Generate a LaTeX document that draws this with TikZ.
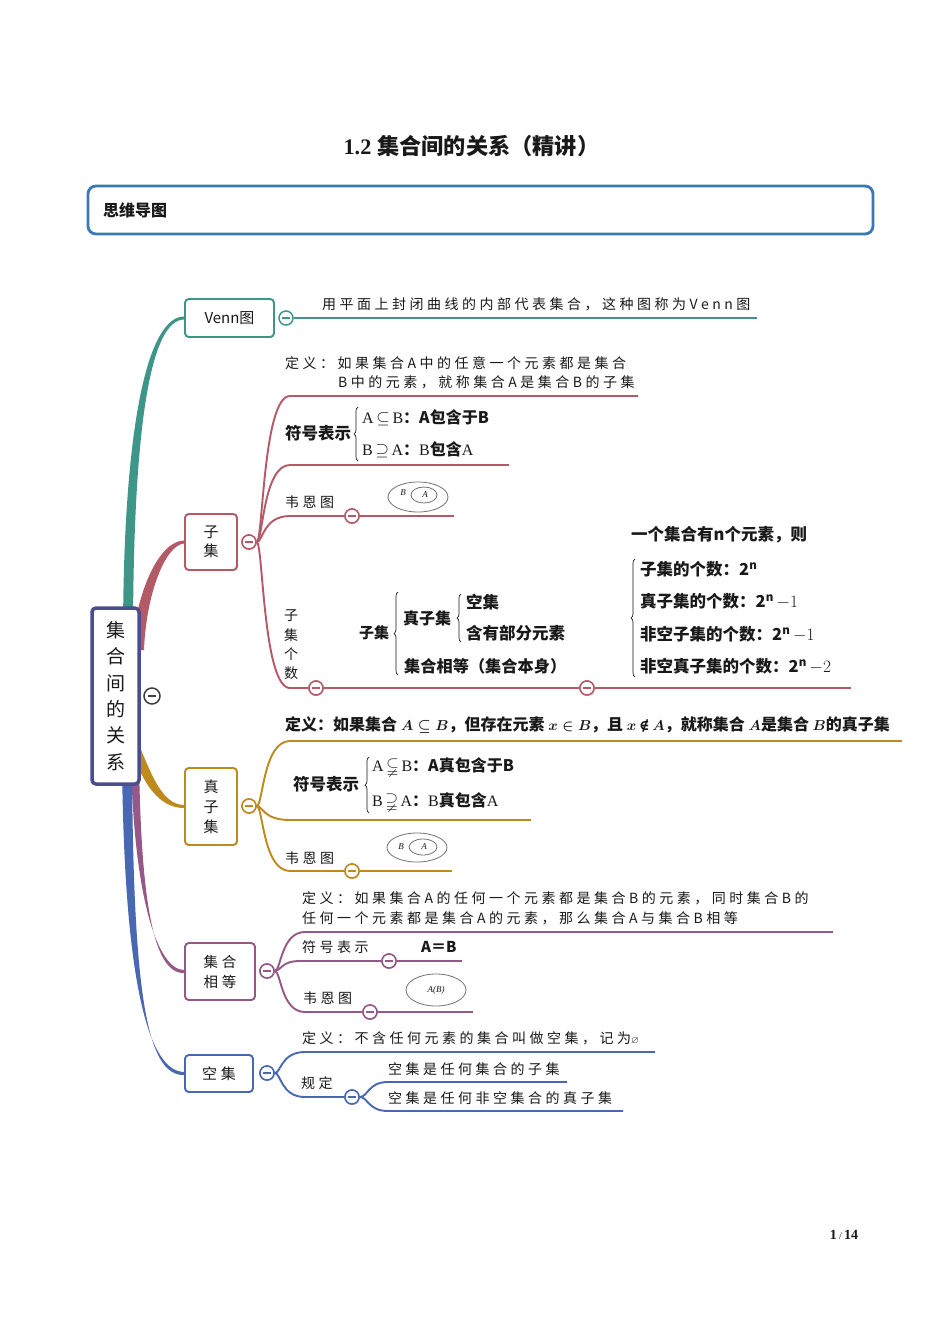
\documentclass[tikz,border=0pt]{standalone}
\usepackage{amsmath,amssymb}
\usepackage{fontspec}
\setmainfont{Noto Sans CJK SC}
\newfontfamily\spc[LetterSpace=25]{Noto Sans CJK SC}
\newfontfamily\tms{Liberation Serif}
\newfontfamily\djv{DejaVu Serif}
\newcommand\bm[1]{{\fontsize{14.4}{19}\selectfont\boldmath$#1$}}
\usetikzlibrary{calc,decorations.pathreplacing}
\definecolor{cteal}{RGB}{62,150,136}
\definecolor{crose}{RGB}{180,90,102}
\definecolor{cgold}{RGB}{190,138,30}
\definecolor{cmauve}{RGB}{150,88,135}
\definecolor{cblue}{RGB}{72,104,180}
\definecolor{croot}{RGB}{74,78,140}
\definecolor{chead}{RGB}{60,120,180}
\definecolor{cgray}{RGB}{115,115,115}
\definecolor{ctext}{RGB}{25,25,25}
\tikzset{
  mbox/.style={draw=#1, line width=1.8pt, rounded corners=4pt, fill=white, inner sep=0pt, align=center, text=ctext, font=\fontsize{15}{19}\selectfont},
  coll/.style={circle, draw=#1, fill=white, line width=1.5pt, minimum size=14pt, inner sep=0pt,
    path picture={\draw[#1, line width=1.5pt] ($(path picture bounding box.center)+(-4pt,0pt)$) -- ($(path picture bounding box.center)+(4pt,0pt)$);}},
  br/.style={line width=1.9pt, draw=#1},
  sp/.style={anchor=west, inner sep=0pt, text=ctext, font=\spc\fontsize{14}{19}\selectfont},
  bd/.style={anchor=west, inner sep=0pt, text=ctext, font=\bfseries\fontsize{16.5}{20}\selectfont},
  mx/.style={anchor=west, inner sep=0pt, text=ctext, font=\fontsize{16}{20}\selectfont},
  brc/.style={decorate, decoration={brace, amplitude=4pt}, line width=0.7pt, draw=ctext},
  vn/.style={draw=cgray, line width=0.8pt},
  vl/.style={inner sep=0pt, font=\tms\itshape\fontsize{9}{10}\selectfont, text=ctext},
}
\begin{document}
\begin{tikzpicture}[x=1pt,y=-1pt]
\useasboundingbox (0,0) rectangle (950,1344);
\fill[white] (0,0) rectangle (950,1344);

% title and header
\node[font=\bfseries\fontsize{22.2}{26}\selectfont, inner sep=0pt, text=ctext] (title) at (471.5,146) {{\tms 1.2}\hspace{6pt}集合间的关系（精讲）};
\node[draw=chead, line width=2.8pt, rounded corners=8pt, minimum width=785pt, minimum height=48pt, inner sep=0pt] (hdr) at (480.5,210) {};
\node[bd, font=\bfseries\fontsize{16}{19}\selectfont] (hdrt) at (103,210) {思维导图};

% boxes (placed first for anchors, redrawn over branches)
\node[mbox=cteal, minimum width=89pt, minimum height=38pt] (venn) at (229.5,318) {Venn图};
\node[mbox=crose, minimum width=52pt, minimum height=56pt] (zj) at (211,542) {子\\集};
\node[mbox=cgold, minimum width=52pt, minimum height=77pt, font=\fontsize{15}{20}\selectfont] (zzj) at (211,806.5) {真\\子\\集};
\node[mbox=cmauve, minimum width=70pt, minimum height=57pt, font=\spc\fontsize{14.5}{20}\selectfont] (xd) at (220,971.5) {集合\\相等};
\node[mbox=cblue, minimum width=68pt, minimum height=37pt, font=\spc\fontsize{15}{19}\selectfont] (kj) at (219,1073.5) {空集};

% root branches (tapered)
\fill[cteal] (123,640) .. controls (123,418) and (149,316.5) .. ($(venn.west)+(0,-1.5)$) -- ($(venn.west)+(0,1.5)$) .. controls (151,320) and (133,422) .. (133,640) -- cycle;
\fill[crose] (132,650) .. controls (136,590) and (160,540.5) .. ($(zj.west)+(0,-1.5)$) -- ($(zj.west)+(0,1.5)$) .. controls (165,545) and (146,595) .. (144,650) -- cycle;
\fill[cgold] (132,728) .. controls (150,770) and (160,804.5) .. ($(zzj.west)+(0,-1.5)$) -- ($(zzj.west)+(0,1.5)$) .. controls (158,808) and (143,782) .. (132,752) -- cycle;
\fill[cmauve] (131,760) .. controls (134,900) and (158,970) .. ($(xd.west)+(0,-1.5)$) -- ($(xd.west)+(0,1.5)$) .. controls (153,974) and (141,900) .. (139,760) -- cycle;
\fill[cblue] (122,760) .. controls (124,990) and (150,1071.5) .. ($(kj.west)+(0,-1.5)$) -- ($(kj.west)+(0,1.5)$) .. controls (146,1076) and (133,990) .. (132,760) -- cycle;

% redraw boxes on top
\node[mbox=cteal, minimum width=89pt, minimum height=38pt] at (venn) {Venn图};
\node[mbox=crose, minimum width=52pt, minimum height=56pt] at (zj) {子\\集};
\node[mbox=cgold, minimum width=52pt, minimum height=77pt, font=\fontsize{15}{20}\selectfont] at (zzj) {真\\子\\集};
\node[mbox=cmauve, minimum width=70pt, minimum height=57pt, font=\spc\fontsize{14.5}{20}\selectfont] at (xd) {集合\\相等};
\node[mbox=cblue, minimum width=68pt, minimum height=37pt, font=\spc\fontsize{15}{19}\selectfont] at (kj) {空集};

% root
\node[mbox=croot, line width=3.5pt, minimum width=47pt, minimum height=176pt, font=\fontsize{19}{26.4}\selectfont] (root) at (115.5,696) {集\\合\\间\\的\\关\\系};
\node[coll={black!75}, minimum size=16pt] (rc) at (152,696) {};

% ---------- Venn ----------
\node[coll=cteal] (cv) at (286,318) {};
\coordinate (ve) at (757,318);
\draw[br=cteal] (cv.east) -- (ve);
\node[sp] (vt) at (322,304) {用平面上封闭曲线的内部代表集合，这种图称为Venn图};

% ---------- 子集 ----------
\node[coll=crose] (czj) at (249,542) {};
\coordinate (a1) at (290,396); \coordinate (a1e) at (638,396);
\coordinate (a2) at (290,465); \coordinate (a2e) at (509,465);
\coordinate (a3) at (290,516); \coordinate (a3e) at (454,516);
\coordinate (a4) at (290,688); \coordinate (a4e) at (851,688);
\node[coll=crose] (cz3) at (352,516) {};
\node[coll=crose] (cz4) at (316,688) {};
\node[coll=crose] (cz5) at (587,688) {};
\draw[br=crose] (czj.east) .. controls (263,542) and (263,396) .. (a1) -- (a1e);
\draw[br=crose] (czj.east) .. controls (263,542) and (263,465) .. (a2) -- (a2e);
\draw[br=crose] (czj.east) .. controls (263,542) and (263,516) .. (a3) -- (cz3.west);
\draw[br=crose] (cz3.east) -- (a3e);
\draw[br=crose] (czj.east) .. controls (263,542) and (263,688) .. (a4) -- (cz4.west);
\draw[br=crose] (cz4.east) -- (cz5.west);
\draw[br=crose] (cz5.east) -- (a4e);
\node[coll=crose] at (czj) {};
\node[coll=crose] at (cz3) {};
\node[coll=crose] at (cz4) {};
\node[coll=crose] at (cz5) {};

\node[sp] (zd1) at (285,363) {定义：如果集合A中的任意一个元素都是集合};
\node[sp] (zd2) at (338,382) {B中的元素，就称集合A是集合B的子集};
\node[bd] (zfh) at (285,433) {符号表示};
\coordinate (zb1) at (358,461); \coordinate (zb2) at (358,407);
\draw[brc] (zb1) -- (zb2);
\node[mx] (zs1) at (362,418) {{\tms A\,}$\subseteq${\tms\,B}\textbf{：A包含于B}};
\node[mx] (zs2) at (362,450) {{\tms B\,}$\supseteq${\tms\,A}\textbf{：}{\tms B}\textbf{包含}{\tms A}};
\node[sp] (zwe) at (285,502) {韦恩图};
\draw[vn] (418,497) ellipse [x radius=30pt, y radius=15pt];
\draw[vn] (424,495) ellipse [x radius=13pt, y radius=8pt];
\node[vl] (zvb) at (403,493) {B};
\node[vl] (zva) at (425,495) {A};

\node[anchor=center, inner sep=0pt, align=center, text=ctext, font=\fontsize{14}{19.3}\selectfont] (zgs) at (291,645) {子\\集\\个\\数};
\node[bd, font=\bfseries\fontsize{15}{18}\selectfont] (zg1) at (359,633) {子集};
\coordinate (zc1) at (398,675); \coordinate (zc2) at (398,592);
\draw[brc] (zc1) -- (zc2);
\node[bd, font=\bfseries\fontsize{16}{18}\selectfont] (zg2) at (403,618) {真子集};
\coordinate (zc3) at (461,642); \coordinate (zc4) at (461,594);
\draw[brc] (zc3) -- (zc4);
\node[bd] (zg3) at (466,602) {空集};
\node[bd] (zg4) at (466,633) {含有部分元素};
\node[bd, font=\bfseries\fontsize{16.2}{20}\selectfont] (zg5) at (404,666) {集合相等（集合本身）};

\node[bd] (zn0) at (631,535) {一个集合有n个元素，则};
\coordinate (zc5) at (635,677); \coordinate (zc6) at (635,559);
\draw[brc] (zc5) -- (zc6);
\node[bd] (zn1) at (640,569) {子集的个数：2\textsuperscript{n}};
\node[bd] (zn2) at (640,601) {真子集的个数：2\textsuperscript{n}{\mdseries$\,-1$}};
\node[bd] (zn3) at (640,634) {非空子集的个数：2\textsuperscript{n}{\mdseries$\,-1$}};
\node[bd] (zn4) at (640,666) {非空真子集的个数：2\textsuperscript{n}{\mdseries$\,-2$}};

% ---------- 真子集 ----------
\node[coll=cgold] (czz) at (249,806) {};
\coordinate (b1) at (290,741); \coordinate (b1e) at (902,741);
\coordinate (b2) at (290,820); \coordinate (b2e) at (531,820);
\coordinate (b3) at (290,871); \coordinate (b3e) at (452,871);
\node[coll=cgold] (cb3) at (352,871) {};
\draw[br=cgold] (czz.east) .. controls (263,806) and (263,741) .. (b1) -- (b1e);
\draw[br=cgold] (czz.east) .. controls (263,806) and (263,820) .. (b2) -- (b2e);
\draw[br=cgold] (czz.east) .. controls (263,806) and (263,871) .. (b3) -- (cb3.west);
\draw[br=cgold] (cb3.east) -- (b3e);
\node[coll=cgold] at (czz) {};
\node[coll=cgold] at (cb3) {};

\node[bd, font=\bfseries\fontsize{16}{19}\selectfont] (pd) at (285,725) {定义：如果集合 \bm{A\subseteq B}，但存在元素 \bm{x\in B}，且 \bm{x}\,{\djv\bfseries\fontsize{14.4}{19}\selectfont ∉}\,\bm{A}，就称集合 \bm{A}是集合 \bm{B}的真子集};
\node[bd] (pfh) at (293,784) {符号表示};
\coordinate (pb1) at (369,813); \coordinate (pb2) at (369,757);
\draw[brc] (pb1) -- (pb2);
\node[mx] (ps1) at (372,767) {{\tms A\,}$\subsetneqq${\tms\,B}\textbf{：A真包含于B}};
\node[mx] (ps2) at (372,802) {{\tms B\,}$\supsetneqq${\tms\,A}\textbf{：}{\tms B}\textbf{真包含}{\tms A}};
\node[sp] (pwe) at (285,858) {韦恩图};
\draw[vn] (417,847.5) ellipse [x radius=30pt, y radius=14.5pt];
\draw[vn] (423,847) ellipse [x radius=14pt, y radius=8pt];
\node[vl] (pvb) at (401,847) {B};
\node[vl] (pva) at (424,847) {A};

% ---------- 集合相等 ----------
\node[coll=cmauve] (cxd) at (267,971) {};
\coordinate (c1) at (305,932); \coordinate (c1e) at (833,932);
\coordinate (c2) at (300,961); \coordinate (c2e) at (462,961);
\coordinate (c3) at (305,1012); \coordinate (c3e) at (473,1012);
\node[coll=cmauve] (cc2) at (389,961) {};
\node[coll=cmauve] (cc3) at (370,1012) {};
\draw[br=cmauve] (cxd.east) .. controls (281,971) and (281,932) .. (c1) -- (c1e);
\draw[br=cmauve] (cxd.east) .. controls (281,971) and (281,961) .. (c2) -- (cc2.west);
\draw[br=cmauve] (cc2.east) -- (c2e);
\draw[br=cmauve] (cxd.east) .. controls (281,971) and (281,1012) .. (c3) -- (cc3.west);
\draw[br=cmauve] (cc3.east) -- (c3e);
\node[coll=cmauve] at (cxd) {};
\node[coll=cmauve] at (cc2) {};
\node[coll=cmauve] at (cc3) {};

\node[sp] (xd1) at (302,898) {定义：如果集合A的任何一个元素都是集合B的元素，同时集合B的};
\node[sp] (xd2) at (302,918) {任何一个元素都是集合A的元素，那么集合A与集合B相等};
\node[sp] (xfh) at (302,947) {符号表示};
\node[bd, font=\bfseries\fontsize{15}{18}\selectfont] (xeq) at (421,947) {A＝B};
\node[sp] (xwe) at (303,998) {韦恩图};
\draw[vn] (436,990) ellipse [x radius=30pt, y radius=16pt];
\node[vl] (xab) at (436,990) {A(B)};

% ---------- 空集 ----------
\node[coll=cblue] (ckj) at (267,1073) {};
\coordinate (d1) at (305,1052); \coordinate (d1e) at (655,1052);
\coordinate (d2) at (305,1097);
\coordinate (d3) at (388,1082); \coordinate (d3e) at (567,1082);
\coordinate (d4) at (388,1111); \coordinate (d4e) at (623,1111);
\node[coll=cblue] (cd2) at (352,1097) {};
\draw[br=cblue] (ckj.east) .. controls (281,1073) and (281,1052) .. (d1) -- (d1e);
\draw[br=cblue] (ckj.east) .. controls (281,1073) and (281,1097) .. (d2) -- (cd2.west);
\draw[br=cblue] (cd2.east) .. controls (368,1097) and (368,1082) .. (d3) -- (d3e);
\draw[br=cblue] (cd2.east) .. controls (368,1097) and (368,1111) .. (d4) -- (d4e);
\node[coll=cblue] at (ckj) {};
\node[coll=cblue] at (cd2) {};

\node[sp] (kd) at (302,1038) {定义：不含任何元素的集合叫做空集，记为{\fontsize{10}{12}\selectfont$\varnothing$}};
\node[sp] (kg) at (301,1083) {规定};
\node[sp] (kg1) at (388,1069) {空集是任何集合的子集};
\node[sp] (kg2) at (388,1098) {空集是任何非空集合的真子集};

% page number
\node[inner sep=0pt, text=ctext, font=\tms\bfseries\fontsize{14}{16}\selectfont] (pg) at (844,1235) {1\,{\mdseries\fontsize{10}{12}\selectfont /}\,14};
\end{tikzpicture}
\end{document}
